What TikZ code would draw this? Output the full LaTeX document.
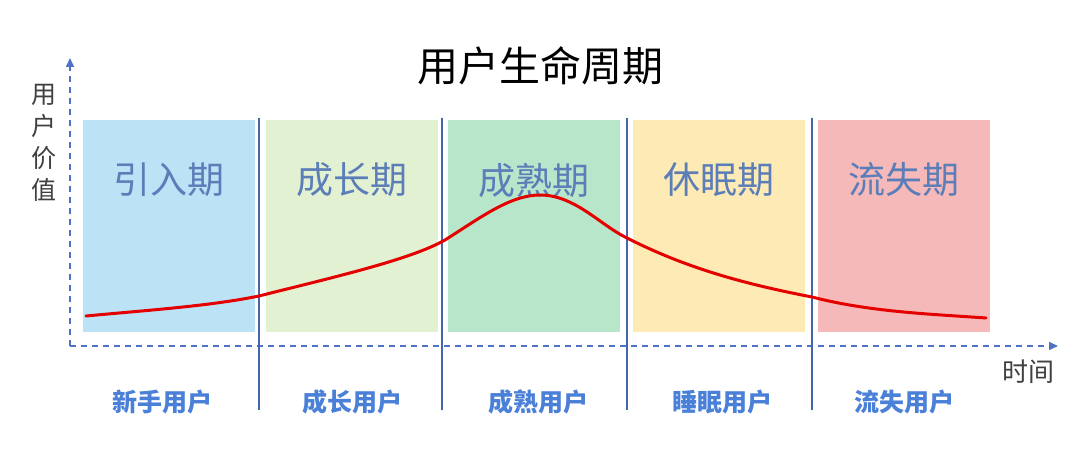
\documentclass[tikz,border=0pt]{standalone}
\usepackage{fontspec}
\newfontfamily\cjk{Noto Sans CJK SC}
\usetikzlibrary{arrows.meta}
\definecolor{axisblue}{HTML}{4F72C4}
\definecolor{sepblue}{HTML}{4466AA}
\definecolor{bandtext}{HTML}{5B7DB8}
\definecolor{bottext}{HTML}{4A80D8}
\definecolor{b1}{HTML}{BCE2F6}
\definecolor{b2}{HTML}{E3F1D3}
\definecolor{b3}{HTML}{B8E6CB}
\definecolor{b4}{HTML}{FDEAB4}
\definecolor{b5}{HTML}{F6B9B9}
\tikzset{
 band/.style={draw=none,minimum width=172pt,minimum height=212pt,inner sep=0pt},
 bandlabel/.style={font=\cjk\fontsize{37}{40}\selectfont,text=bandtext},
 botlabel/.style={font=\cjk\bfseries\fontsize{25}{28}\selectfont,text=bottext},
 axis/.style={axisblue,line width=1.6pt,dashed,dash pattern=on 6pt off 5pt,-{Triangle[length=9pt,width=8pt]}},
 sep/.style={sepblue,line width=2pt}
}
\begin{document}
\begin{tikzpicture}[x=1pt,y=-1pt]
\useasboundingbox (0,0) rectangle (1080,449);
\fill[white] (0,0) rectangle (1080,449);
\node[band,fill=b1] (p1) at (169,226) {};
\node[band,fill=b2] (p2) at (352,226) {};
\node[band,fill=b3] (p3) at (534,226) {};
\node[band,fill=b4] (p4) at (719,226) {};
\node[band,fill=b5] (p5) at (904,226) {};
\node[bandlabel] (l1) at (169,180) {引入期};
\node[bandlabel] (l2) at (352,180) {成长期};
\node[bandlabel] (l3) at (534,180) {成熟期};
\node[bandlabel] (l4) at (719,180) {休眠期};
\node[bandlabel] (l5) at (904,180) {流失期};
\coordinate (o) at (70,346);
\coordinate (ytop) at (70,58);
\coordinate (xend) at (1058,346);
\draw[axis] (o) -- (ytop);
\draw[axis] (o) -- (xend);
\node[font=\cjk\fontsize{41}{44}\selectfont] (title) at (540,66) {用户生命周期};
\node[font=\cjk\fontsize{25}{32}\selectfont,text=black!75,align=center] (yl) at (44,143) {用\\户\\价\\值};
\node[font=\cjk\fontsize{26}{28}\selectfont,text=black!75] (xl) at (1028,372) {时间};
\foreach \i/\x in {1/259,2/442,3/627,4/812}{
 \coordinate (s\i t) at (\x,118); \coordinate (s\i b) at (\x,410);
 \draw[sep] (s\i t) -- (s\i b);}
\draw[red!90!black,line width=3pt,line cap=round]
 (86,316) .. controls (150,310) and (210,306) .. (259,296)
 .. controls (330,278) and (410,260) .. (445,240)
 .. controls (480,218) and (510,195) .. (540,195)
 .. controls (575,195) and (600,225) .. (627,238)
 .. controls (690,270) and (750,285) .. (812,297)
 .. controls (870,312) and (930,314) .. (986,318);
\node[botlabel] (t1) at (162,402) {新手用户};
\node[botlabel] (t2) at (352,402) {成长用户};
\node[botlabel] (t3) at (538,402) {成熟用户};
\node[botlabel] (t4) at (722,402) {睡眠用户};
\node[botlabel] (t5) at (904,402) {流失用户};
\end{tikzpicture}
\end{document}
